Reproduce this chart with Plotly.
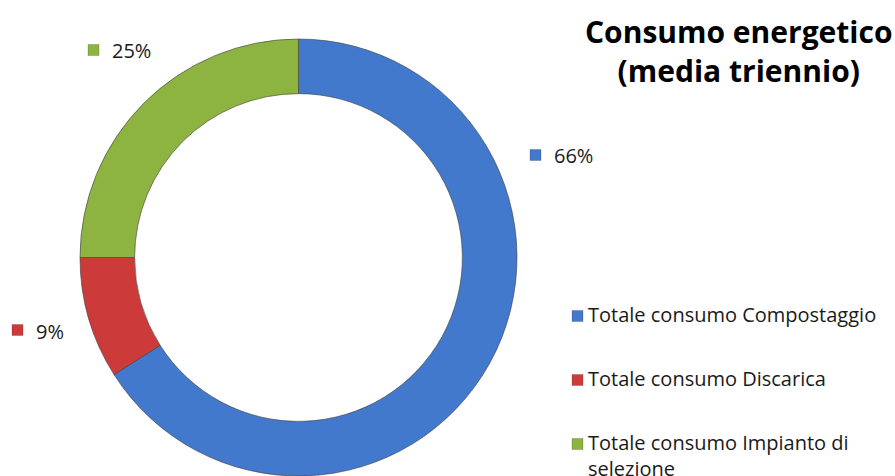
import plotly.graph_objects as go

W, H = 895, 476

labels = ["Totale consumo Compostaggio", "Totale consumo Discarica", "Totale consumo Impianto di selezione"]
legend_texts = ["Totale consumo Compostaggio", "Totale consumo Discarica", "Totale consumo Impianto di<br>selezione"]
values = [66, 9, 25]
colors = ["#4279CC", "#CC3B39", "#8DB441"]
title_text = "<b>Consumo energetico<br>(media triennio)</b>"

FONT = "Open Sans"

def fx(x):
    return x / W

def fy(y):
    return 1 - y / H

fig = go.Figure()
fig.add_trace(go.Pie(
    labels=labels,
    values=values,
    hole=0.75,
    sort=False,
    direction="clockwise",
    rotation=0,
    marker=dict(colors=colors, line=dict(color="rgba(60,60,60,0.6)", width=1)),
    textinfo="none",
    hoverinfo="label+percent",
    showlegend=False,
    domain=dict(x=[fx(80), fx(517)], y=[0, 437 / H]),
))

total = sum(values)
pct = [f"{round(v / total * 100)}%" for v in values]

# outside data labels (square marker + percent)
label_pos = [(530, 155), (12, 330), (88, 50)]
shapes = []
annotations = []
for (x, y), c, t in zip(label_pos, colors, pct):
    shapes.append(dict(type="rect", xref="paper", yref="paper",
                       x0=fx(x), x1=fx(x + 11), y0=fy(y - 5.5), y1=fy(y + 5.5),
                       fillcolor=c, line=dict(color="rgba(0,0,0,0.35)", width=0.5)))
    annotations.append(dict(x=fx(x + 22), y=fy(y + 1), xref="paper", yref="paper",
                            text=t, showarrow=False, xanchor="left", yanchor="middle",
                            font=dict(family=FONT, size=20, color="#1a1a1a")))

# legend
leg_y = [316, 380, 444]
for y, c, t in zip(leg_y, colors, legend_texts):
    shapes.append(dict(type="rect", xref="paper", yref="paper",
                       x0=fx(572), x1=fx(583), y0=fy(y - 5.5), y1=fy(y + 5.5),
                       fillcolor=c, line=dict(color="rgba(0,0,0,0.35)", width=0.5)))
    annotations.append(dict(x=fx(586), y=fy(y - 17), xref="paper", yref="paper",
                            text=t, showarrow=False, xanchor="left", yanchor="top",
                            align="left",
                            font=dict(family=FONT, size=20, color="#1a1a1a")))

# title
annotations.append(dict(x=fx(738.5), y=fy(9), xref="paper", yref="paper",
                        text=title_text, showarrow=False, xanchor="center", yanchor="top",
                        align="center",
                        font=dict(family=FONT, size=30, color="#000000")))

fig.update_layout(
    width=W, height=H,
    margin=dict(l=0, r=0, t=0, b=0),
    paper_bgcolor="white",
    plot_bgcolor="white",
    shapes=shapes,
    annotations=annotations,
)

fig.write_html("out.html", config={"displayModeBar": False},
               post_script="document.body.style.margin='0';document.body.style.overflow='hidden';")
